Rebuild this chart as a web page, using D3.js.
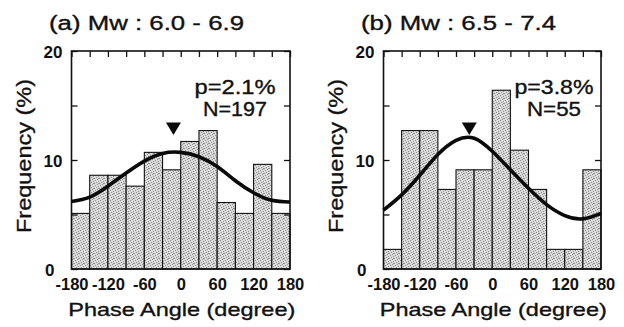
<!DOCTYPE html>
<html>
<head>
<meta charset="utf-8">
<script src="https://cdn.jsdelivr.net/npm/d3@7"></script>
<style>
body { margin: 0; background: #fff; }
svg { display: block; }
text { font-family: "Liberation Sans", Arial, sans-serif; fill: #111; }
text.lab { stroke: #111; stroke-width: 0.35px; }
</style>
</head>
<body>
<script>
// Histogram bins (start of each 30 degree bin)
const binStarts = [-180, -150, -120, -90, -60, -30, 0, 30, 60, 90, 120, 150];
// Frequency (%) per bin
const freqA = [5.1, 8.6, 8.6, 7.6, 10.7, 9.1, 11.7, 12.7, 6.1, 5.1, 9.6, 5.1];
const freqB = [1.8, 12.7, 12.7, 7.3, 9.1, 9.1, 16.4, 10.9, 7.3, 1.8, 1.8, 9.1];

// Fitted curve
const curveAngles = [-180, -150, -120, -90, -60, -30, 0, 30, 60, 90, 120, 150, 180];
const curveA = [6.2, 6.6, 7.6, 8.8, 9.9, 10.6, 10.7, 10.3, 9.4, 8.1, 7.0, 6.3, 6.15];
const curveB = [5.4, 6.8, 8.6, 10.5, 11.8, 12.0, 10.8, 9.1, 7.4, 5.9, 4.9, 4.6, 5.1];

// Peak phase (triangle marker)
const peaks = [-12, -38];

const titles = ["(a) Mw : 6.0 - 6.9", "(b) Mw : 6.5 - 7.4"];
const pLabels = ["p=2.1%", "p=3.8%"];
const nLabels = ["N=197", "N=55"];

const xTickLabels = [-180, -120, -60, 0, 60, 120, 180];
const xMinorTicks = d3.range(-180, 181, 30);
const yTickLabels = [0, 10, 20];
const yMinorTicks = [0, 5, 10, 15, 20];

const width = 624, height = 327;
const plotTop = 51, plotBottom = 269;

const svg = d3.select("body").append("svg")
  .attr("width", width)
  .attr("height", height);

// stippled fill like the printed figure
const pat = svg.append("defs").append("pattern")
  .attr("id", "stip")
  .attr("width", 5).attr("height", 5)
  .attr("patternUnits", "userSpaceOnUse");
pat.append("rect").attr("width", 5).attr("height", 5).attr("fill", "#dadada");
[[0, 0], [3, 1], [1, 2], [4, 3], [2, 4], [3, 3]].forEach(function(p) {
  pat.append("rect").attr("x", p[0]).attr("y", p[1])
    .attr("width", 1).attr("height", 1).attr("fill", "#909090");
});

const panels = [
  {left: 71.5, right: 290, freq: freqA, curve: curveA, off: 0,
   pw: 81, nw: 64, pcx: 235},
  {left: 383.5, right: 601, freq: freqB, curve: curveB, off: 312,
   pw: 79, nw: 54, pcx: 554}
];

const yScale = d3.scaleLinear().domain([0, 20]).range([plotBottom, plotTop]);

panels.forEach(function(P, i) {
  const x = d3.scaleLinear().domain([-180, 180]).range([P.left, P.right]);
  const g = svg.append("g");

  // bars
  g.selectAll("rect.bar")
    .data(P.freq)
    .enter()
    .append("rect")
    .attr("class", "bar")
    .attr("x", function(d, j) { return x(binStarts[j]); })
    .attr("width", function(d, j) { return x(binStarts[j] + 30) - x(binStarts[j]); })
    .attr("y", function(d) { return yScale(d); })
    .attr("height", function(d) { return plotBottom - yScale(d); })
    .attr("fill", "url(#stip)")
    .attr("stroke", "#111")
    .attr("stroke-width", 1.1);

  // inward ticks on all sides
  g.append("g")
    .attr("transform", "translate(0," + plotTop + ")")
    .call(d3.axisTop(x).tickValues(xMinorTicks).tickSize(-6).tickFormat(""))
    .call(function(s) { s.select(".domain").remove(); })
    .selectAll("line").attr("stroke", "#111").attr("stroke-width", 1.3);

  g.append("g")
    .attr("transform", "translate(" + P.right + ",0)")
    .call(d3.axisRight(yScale).tickValues(yMinorTicks).tickSize(-6).tickFormat(""))
    .call(function(s) { s.select(".domain").remove(); })
    .selectAll("line").attr("stroke", "#111").attr("stroke-width", 1.3);

  const yAx = g.append("g")
    .attr("transform", "translate(" + P.left + ",0)")
    .call(d3.axisLeft(yScale).tickValues(yMinorTicks).tickSize(-6).tickPadding(9)
      .tickFormat(function(d) { return yTickLabels.indexOf(d) >= 0 ? String(d) : ""; }));
  yAx.select(".domain").remove();
  yAx.selectAll("line").attr("stroke", "#111").attr("stroke-width", 1.3);
  yAx.selectAll("text")
    .attr("font-size", 17).attr("font-weight", "bold")
    .attr("font-family", "Liberation Sans, Arial, sans-serif")
    .attr("dx", function(d) { return d === 0 ? -8 : 0; })
    .attr("dy", "0.36em");

  const xAx = g.append("g")
    .attr("transform", "translate(0," + plotBottom + ")")
    .call(d3.axisBottom(x).tickValues(xTickLabels).tickSize(0).tickPadding(9)
      .tickFormat(function(d) { return String(d); }));
  xAx.select(".domain").remove();
  xAx.selectAll("text")
    .attr("font-size", 16.5).attr("font-weight", "bold")
    .attr("font-family", "Liberation Sans, Arial, sans-serif");

  // frame
  g.append("rect")
    .attr("x", P.left).attr("y", plotTop)
    .attr("width", P.right - P.left).attr("height", plotBottom - plotTop)
    .attr("fill", "none").attr("stroke", "#111").attr("stroke-width", 1.6);

  // fitted curve
  const line = d3.line()
    .x(function(d, j) { return x(curveAngles[j]); })
    .y(function(d) { return yScale(d); })
    .curve(d3.curveNatural);
  g.append("path")
    .datum(P.curve)
    .attr("d", line)
    .attr("fill", "none")
    .attr("stroke", "#0a0a0a")
    .attr("stroke-width", 3.6);

  // peak marker
  const px = x(peaks[i]), ty = yScale(13.45), by = yScale(12.3);
  g.append("path")
    .attr("d", "M" + (px - 7.5) + "," + ty + "L" + (px + 7.5) + "," + ty + "L" + px + "," + by + "Z")
    .attr("fill", "#0a0a0a");

  // p and N
  g.append("text")
    .attr("class", "lab")
    .attr("x", P.pcx).attr("y", 93.5)
    .attr("text-anchor", "middle")
    .attr("font-size", 20)
    .attr("textLength", P.pw).attr("lengthAdjust", "spacingAndGlyphs")
    .text(pLabels[i]);
  g.append("text")
    .attr("class", "lab")
    .attr("x", P.pcx).attr("y", 116)
    .attr("text-anchor", "middle")
    .attr("font-size", 20)
    .attr("textLength", P.nw).attr("lengthAdjust", "spacingAndGlyphs")
    .text(nLabels[i]);

  // panel title
  g.append("text")
    .attr("class", "lab")
    .attr("x", 49 + P.off).attr("y", 29.5)
    .attr("font-size", 20)
    .attr("textLength", 195).attr("lengthAdjust", "spacingAndGlyphs")
    .text(titles[i]);

  // axis titles
  g.append("text")
    .attr("class", "lab")
    .attr("x", (P.left + P.right) / 2 + 1).attr("y", 316)
    .attr("text-anchor", "middle")
    .attr("font-size", 19)
    .attr("textLength", 227).attr("lengthAdjust", "spacingAndGlyphs")
    .text("Phase Angle (degree)");

  g.append("text")
    .attr("class", "lab")
    .attr("transform", "translate(" + (31 + P.off) + "," + 156 + ") rotate(-90)")
    .attr("text-anchor", "middle")
    .attr("font-size", 21)
    .attr("textLength", 154).attr("lengthAdjust", "spacingAndGlyphs")
    .text("Frequency (%)");
});
</script>
</body>
</html>
